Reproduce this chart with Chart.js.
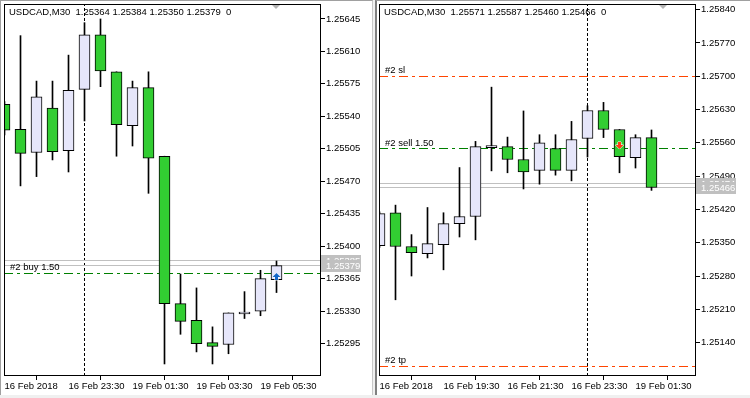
<!DOCTYPE html>
<html>
<head>
<meta charset="utf-8">
<script src="https://cdn.jsdelivr.net/npm/chart.js@4.4.1/dist/chart.umd.min.js"></script>
<style>
  html, body { margin: 0; padding: 0; background: #f0f0f0; }
  body { width: 750px; height: 398px; position: relative; overflow: hidden; }
  .panel { position: absolute; top: 0; height: 395px; background: #fff; box-sizing: border-box; border-top: 1px solid #a0a0a0; }
  #leftPanel { left: 0; width: 373px; border-left: 1px solid #a0a0a0; border-right: 1px solid #c8c8c8; }
  #rightPanel { left: 375px; width: 375px; border-left: 2px solid #808080; }
  canvas { position: absolute; top: 0; }
</style>
</head>
<body>
<div class="panel" id="leftPanel"></div>
<div class="panel" id="rightPanel"></div>
<canvas id="leftChart" width="372" height="395" style="left:0"></canvas>
<canvas id="rightChart" width="375" height="395" style="left:375px"></canvas>
<script>
// left window: USDCAD M30, 16 Feb 21:30 .. 19 Feb 06:00
const leftOpen  = [1.25553, 1.25526, 1.25501, 1.25549, 1.25503, 1.25569, 1.25628, 1.25588, 1.25530, 1.25571, 1.25497, 1.25338, 1.25320, 1.25296, 1.25294, 1.25327, 1.25330, 1.25364];
const leftHigh  = [1.25556, 1.25627, 1.25578, 1.25578, 1.25606, 1.25641, 1.25645, 1.25588, 1.25578, 1.25588, 1.25497, 1.25370, 1.25355, 1.25313, 1.25328, 1.25351, 1.25374, 1.25384];
const leftLow   = [1.25520, 1.25465, 1.25475, 1.25493, 1.25480, 1.25535, 1.25572, 1.25497, 1.25508, 1.25457, 1.25273, 1.25305, 1.25286, 1.25273, 1.25284, 1.25322, 1.25325, 1.25350];
const leftClose = [1.25525, 1.25500, 1.25561, 1.25502, 1.25568, 1.25628, 1.25589, 1.25531, 1.25571, 1.25495, 1.25338, 1.25319, 1.25295, 1.25292, 1.25328, 1.25329, 1.25365, 1.25379];
const leftPriceTicks = [1.25645, 1.25610, 1.25575, 1.25540, 1.25505, 1.25470, 1.25435, 1.25400, 1.25365, 1.25330, 1.25295];
const leftTimeTicks = [0, 4, 8, 12, 16];
const leftTimeLabels = ['16 Feb 2018', '16 Feb 23:30', '19 Feb 01:30', '19 Feb 03:30', '19 Feb 05:30'];
const leftDaySeparator = 5;
const leftLevelNames = ['#2 buy 1.50'];
const leftLevelValues = [1.25371];
const leftBidAsk = [1.25379, 1.25385];
const leftTrade = [17, 1.25371];

// right window: USDCAD M30, 16 Feb 17:30 .. 19 Feb 02:00
const rightOpen  = [1.25344, 1.25413, 1.25342, 1.25327, 1.25346, 1.25390, 1.25405, 1.25550, 1.25552, 1.25525, 1.25502, 1.25548, 1.25502, 1.25569, 1.25628, 1.25588, 1.25529, 1.25571];
const rightHigh  = [1.25415, 1.25429, 1.25367, 1.25424, 1.25413, 1.25508, 1.25563, 1.25677, 1.25572, 1.25627, 1.25577, 1.25577, 1.25605, 1.25638, 1.25645, 1.25588, 1.25577, 1.25587];
const rightLow   = [1.25340, 1.25230, 1.25280, 1.25318, 1.25293, 1.25362, 1.25356, 1.25501, 1.25497, 1.25463, 1.25473, 1.25492, 1.25480, 1.25530, 1.25571, 1.25497, 1.25507, 1.25460];
const rightClose = [1.25411, 1.25342, 1.25329, 1.25348, 1.25390, 1.25405, 1.25552, 1.25554, 1.25525, 1.25499, 1.25560, 1.25502, 1.25567, 1.25628, 1.25588, 1.25531, 1.25571, 1.25466];
const rightPriceTicks = [1.25840, 1.25770, 1.25700, 1.25630, 1.25560, 1.25490, 1.25420, 1.25350, 1.25280, 1.25210, 1.25140];
const rightTimeTicks = [0, 4, 8, 12, 16];
const rightTimeLabels = ['16 Feb 2018', '16 Feb 19:30', '16 Feb 21:30', '16 Feb 23:30', '19 Feb 01:30'];
const rightDaySeparator = 13;
const rightLevelNames = ['#2 sl', '#2 sell 1.50', '#2 tp'];
const rightLevelValues = [1.25700, 1.25548, 1.25090];
const rightBidAsk = [1.25466, 1.25474];
const rightTrade = [15, 1.25548];

const FONT = "'Liberation Sans', Arial, sans-serif";
const FONT_SIZE = 9.5;
const BULL = '#e6e6fa';
const BEAR = '#32cd32';
const X_MIN = -0.03125;
const X_MAX = X_MIN + 317 / 16;
const DASHDOT = [9, 4, 3, 4];

function hline(value, color, dash) {
  return {
    type: 'line',
    data: [{x: X_MIN, y: value}, {x: X_MAX, y: value}],
    borderColor: color,
    borderWidth: 1,
    borderDash: dash,
    pointRadius: 0,
    order: 3,
    clip: 0,
    snap: true
  };
}

function arrow(ctx, px, py, up, color) {
  const s = up ? 1 : -1;
  ctx.beginPath();
  ctx.moveTo(px, py);
  ctx.lineTo(px + 4, py + 4 * s);
  ctx.lineTo(px + 1.5, py + 4 * s);
  ctx.lineTo(px + 1.5, py + 7 * s);
  ctx.lineTo(px - 1.5, py + 7 * s);
  ctx.lineTo(px - 1.5, py + 4 * s);
  ctx.lineTo(px - 4, py + 4 * s);
  ctx.closePath();
  ctx.lineWidth = 1;
  ctx.strokeStyle = '#fff';
  ctx.stroke();
  ctx.fillStyle = color;
  ctx.fill();
}

// keep horizontal level lines on whole pixel rows, like the terminal does
const snapLines = {
  id: 'snapLines',
  beforeDatasetDraw(chart, args) {
    const ds = chart.data.datasets[args.index];
    chart.ctx.save();
    if (ds.snap && args.meta.data.length) {
      const py = args.meta.data[0].y;
      chart.ctx.translate(0, Math.round(py - 0.5) + 0.5 - py);
    }
  },
  afterDatasetDraw(chart) {
    chart.ctx.restore();
  }
};

const overlay = {
  id: 'overlay',
  afterDatasetsDraw(chart, args, o) {
    const {ctx, chartArea: a} = chart;
    const x = chart.scales.x, y = chart.scales.y;
    ctx.save();
    ctx.font = FONT_SIZE + 'px ' + FONT;
    ctx.fillStyle = '#000';
    ctx.textBaseline = 'middle';
    ctx.fillText(o.header, a.left + 5, a.top + 8);
    o.names.forEach((n, i) => {
      ctx.fillStyle = '#000';
      ctx.fillText(n, a.left + 6, Math.round(y.getPixelForValue(o.values[i])) - 6);
    });

    arrow(ctx, x.getPixelForValue(o.trade[0]), Math.round(y.getPixelForValue(o.trade[1])), o.buy, o.buy ? '#1466c8' : '#ff3c14');

    // chart frame
    ctx.strokeStyle = '#000';
    ctx.lineWidth = 1;
    ctx.strokeRect(a.left + 0.5, a.top + 0.5, a.right - a.left - 1, a.bottom - a.top - 1);

    // shift marker
    ctx.fillStyle = '#b4b4b4';
    ctx.beginPath();
    ctx.moveTo(a.left + o.shift - 4, a.top + 1);
    ctx.lineTo(a.left + o.shift + 4, a.top + 1);
    ctx.lineTo(a.left + o.shift, a.top + 5);
    ctx.closePath();
    ctx.fill();
    ctx.restore();
  },
  afterDraw(chart, args, o) {
    const {ctx, chartArea: a} = chart;
    const y = chart.scales.y;
    ctx.save();
    ctx.font = FONT_SIZE + 'px ' + FONT;
    ctx.textBaseline = 'middle';
    [o.bidAsk[1], o.bidAsk[0]].forEach(v => {
      const py = Math.round(y.getPixelForValue(v) - 0.5);
      ctx.fillStyle = '#c0c0c0';
      ctx.fillRect(a.right, py - 5, 40, 12);
      ctx.fillStyle = '#fff';
      ctx.fillText(v.toFixed(5), a.right + 5, py + 1);
    });
    ctx.restore();
  }
};

function makeChart(id, c) {
  const bodies = c.open.map((o, i) => ({x: i, y: [o, c.close[i]]}));
  const wicks = c.open.map((o, i) => ({x: i, y: [c.low[i], c.high[i]]}));
  const colors = c.open.map((o, i) => c.close[i] >= o ? BULL : BEAR);

  const datasets = [
    {data: bodies, backgroundColor: colors, borderColor: '#000', borderWidth: 1, borderSkipped: false, barThickness: 11, grouped: false, order: 0, clip: 0},
    {data: wicks, backgroundColor: '#000', borderWidth: 0, barThickness: 1, grouped: false, order: 1, clip: 0},
    hline(c.bidAsk[0], '#c0c0c0', []),
    hline(c.bidAsk[1], '#c0c0c0', []),
    {type: 'line', data: [{x: c.separator, y: c.yMin}, {x: c.separator, y: c.yMax}], borderColor: '#000', borderWidth: 1, borderDash: [3, 2], pointRadius: 0, order: 4, clip: 0}
  ];
  c.levelNames.forEach((n, i) => {
    const col = n.indexOf('sl') > 0 || n.indexOf('tp') > 0 ? '#ff4500' : '#008000';
    datasets.push(hline(c.levelValues[i], col, DASHDOT));
  });

  return new Chart(document.getElementById(id), {
    type: 'bar',
    data: {datasets: datasets},
    plugins: [snapLines, overlay],
    options: {
      responsive: false,
      animation: false,
      events: [],
      layout: {padding: {left: 4, top: 4, right: 0, bottom: 0}},
      plugins: {
        legend: {display: false},
        tooltip: {enabled: false},
        overlay: {
          header: c.header,
          names: c.levelNames,
          values: c.levelValues,
          trade: c.trade,
          buy: c.buy,
          bidAsk: c.bidAsk,
          shift: c.shift
        }
      },
      scales: {
        x: {
          type: 'linear',
          min: X_MIN,
          max: X_MAX,
          offset: false,
          border: {display: false},
          grid: {drawOnChartArea: false, drawTicks: true, tickLength: 4, color: '#000'},
          ticks: {
            autoSkip: false, maxRotation: 0, minRotation: 0, align: 'start', padding: 1,
            color: '#000', font: {family: FONT, size: FONT_SIZE},
            callback: (v, i) => c.timeLabels[i]
          },
          afterBuildTicks: s => { s.ticks = c.timeTicks.map(v => ({value: v})); },
          afterFit: s => { s.height = 19; s.paddingLeft = 0; s.paddingRight = 0; }
        },
        y: {
          position: 'right',
          min: c.yMin,
          max: c.yMax,
          border: {display: false},
          grid: {drawOnChartArea: false, drawTicks: true, tickLength: 4, color: '#000'},
          ticks: {
            autoSkip: false, padding: 1,
            color: '#000', font: {family: FONT, size: FONT_SIZE},
            callback: v => v.toFixed(5)
          },
          afterBuildTicks: s => { s.ticks = c.priceTicks.map(v => ({value: v})); },
          afterFit: s => { s.width = c.axisWidth; s.paddingTop = 0; s.paddingBottom = 0; }
        }
      }
    }
  });
}

makeChart('leftChart', {
  open: leftOpen, high: leftHigh, low: leftLow, close: leftClose,
  priceTicks: leftPriceTicks, timeTicks: leftTimeTicks, timeLabels: leftTimeLabels,
  separator: leftDaySeparator, levelNames: leftLevelNames, levelValues: leftLevelValues,
  bidAsk: leftBidAsk, trade: leftTrade, buy: true,
  yMin: 1.2526002, yMax: 1.2566112, axisWidth: 51, shift: 272,
  header: 'USDCAD,M30  1.25364 1.25384 1.25350 1.25379  0'
});

makeChart('rightChart', {
  open: rightOpen, high: rightHigh, low: rightLow, close: rightClose,
  priceTicks: rightPriceTicks, timeTicks: rightTimeTicks, timeLabels: rightTimeLabels,
  separator: rightDaySeparator, levelNames: rightLevelNames, levelValues: rightLevelValues,
  bidAsk: rightBidAsk, trade: rightTrade, buy: false,
  yMin: 1.250698, yMax: 1.258518, axisWidth: 54, shift: 284,
  header: 'USDCAD,M30  1.25571 1.25587 1.25460 1.25466  0'
});
</script>
</body>
</html>
